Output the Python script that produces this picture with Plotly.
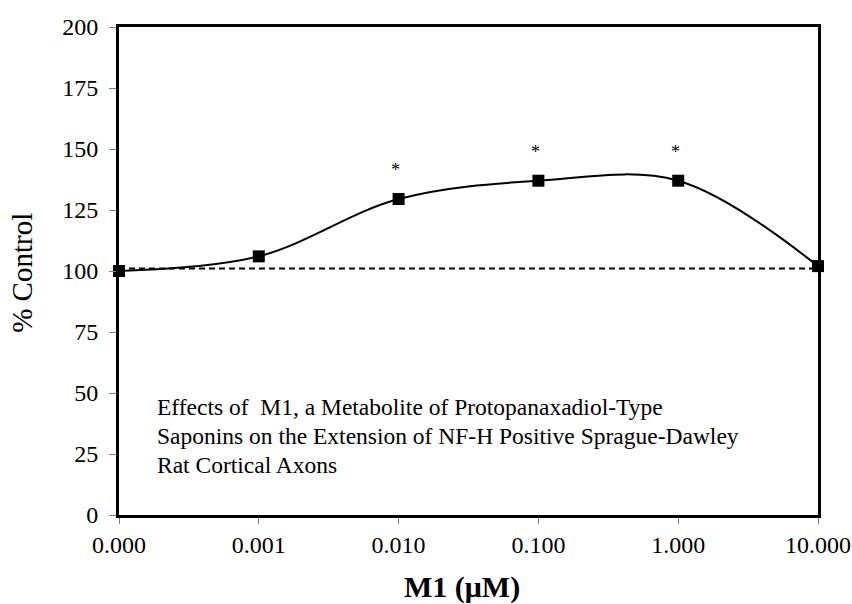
import plotly.graph_objects as go

# Data
categories = ["0.000", "0.001", "0.010", "0.100", "1.000", "10.000"]
percent_control = [100, 106, 129.5, 137, 137, 102]
significance = ["", "", "*", "*", "*", ""]
baseline_value = 101
y_ticks = [0, 25, 50, 75, 100, 125, 150, 175, 200]
caption_lines = [
    "Effects of  M1, a Metabolite of Protopanaxadiol-Type",
    "Saponins on the Extension of NF-H Positive Sprague-Dawley",
    "Rat Cortical Axons",
]
caption_y = [44.3, 32.2, 20.6]

x_idx = list(range(len(categories)))
FONT = "Liberation Serif, Times New Roman, serif"

fig = go.Figure()

# dashed baseline
fig.add_trace(go.Scatter(
    x=[x_idx[0], x_idx[-1]], y=[baseline_value, baseline_value],
    mode="lines", line=dict(color="black", width=2, dash="6px,4px"),
    hoverinfo="skip", showlegend=False, cliponaxis=False))

# smoothed data line with square markers
fig.add_trace(go.Scatter(
    x=x_idx, y=percent_control, mode="lines+markers",
    line=dict(color="black", width=2, shape="spline", smoothing=1.0),
    marker=dict(symbol="square", size=12, color="black"),
    showlegend=False, cliponaxis=False))

annotations = []
for xi, yi, s in zip(x_idx, percent_control, significance):
    if s:
        annotations.append(dict(x=xi, y=yi, text=s, showarrow=False,
                                yshift=29, xshift=-3,
                                font=dict(family=FONT, size=18, color="black")))

for line, yv in zip(caption_lines, caption_y):
    annotations.append(dict(
        xref="paper", yref="y", x=0.0515, y=yv, xanchor="left", yanchor="middle",
        align="left", showarrow=False, text=line,
        font=dict(family=FONT, size=23.5, color="black")))

# axis titles
annotations.append(dict(
    xref="paper", yref="paper", x=0.491, y=-0.1475, xanchor="center", yanchor="middle",
    showarrow=False, text="<b>M1 (μM)</b>",
    font=dict(family=FONT, size=30, color="black")))
annotations.append(dict(
    xref="paper", yref="paper", x=-0.139, y=0.496, xanchor="center", yanchor="middle",
    showarrow=False, text="% Control", textangle=-90,
    font=dict(family=FONT, size=29, color="black")))

fig.update_layout(
    width=852, height=604, autosize=False,
    margin=dict(l=119, r=34, t=27, b=89, pad=0),
    paper_bgcolor="white", plot_bgcolor="white",
    font=dict(family=FONT, color="black"),
    annotations=annotations,
    xaxis=dict(
        range=[0, 5], tickvals=x_idx, ticktext=categories, automargin=False,
        showgrid=False, zeroline=False,
        showline=True, linecolor="black", linewidth=3, mirror=True,
        ticks="outside", ticklen=6, tickcolor="#808080", tickwidth=1,
        tickfont=dict(family=FONT, size=24, color="black")),
    yaxis=dict(
        range=[0, 200], tickvals=y_ticks, automargin=False,
        showgrid=False, zeroline=False,
        showline=True, linecolor="black", linewidth=3, mirror=True,
        ticks="outside", ticklen=7, tickcolor="#808080", tickwidth=1,
        ticklabelstandoff=6,
        tickfont=dict(family=FONT, size=24, color="black")),
)

fig.write_html("out.html", config={"displayModeBar": False},
               post_script="document.body.style.margin='0';")
